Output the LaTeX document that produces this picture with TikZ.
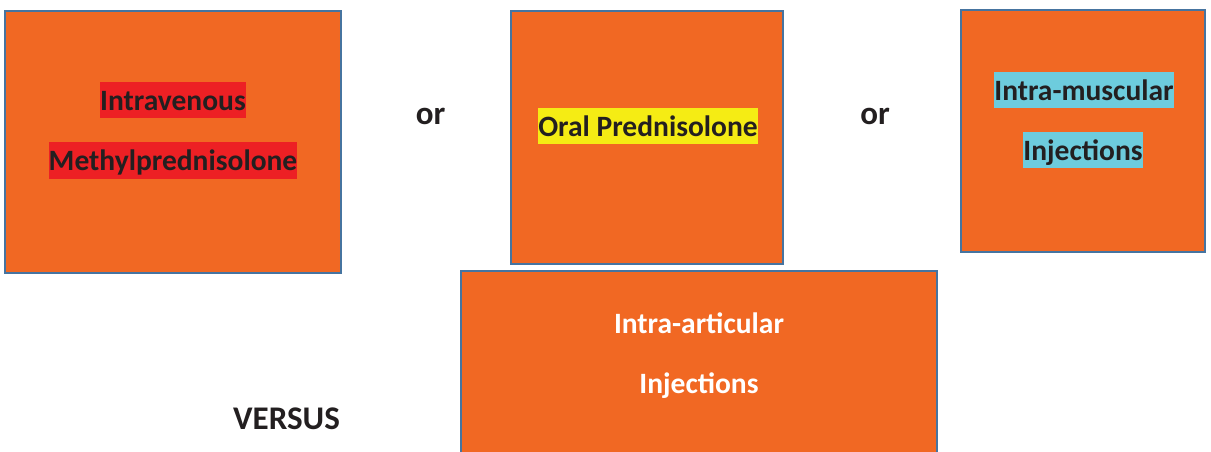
\documentclass[tikz,border=0pt]{standalone}
\usepackage{fontspec}
\setmainfont{Carlito}

\definecolor{steroidBoxFill}{RGB}{241,104,35}
\definecolor{steroidBoxBorder}{RGB}{70,116,160}
\definecolor{steroidText}{RGB}{35,31,32}
\definecolor{steroidRed}{RGB}{237,32,36}
\definecolor{steroidYellow}{RGB}{245,236,20}
\definecolor{steroidCyan}{RGB}{109,204,221}

\begin{document}
\begin{tikzpicture}[x=1cm,y=1cm,
      route/.style={font=\fontsize{16.8}{20}\selectfont\bfseries,
        text=steroidText, inner xsep=0pt, inner ysep=0pt,
        text height=16pt, text depth=4.5pt},
      joiner/.style={route, font=\fontsize{18.8}{22}\selectfont\bfseries,
        text height=17.9pt, text depth=5pt},
      injected/.style={route, text=white},
      card/.style={draw=steroidBoxBorder, fill=steroidBoxFill,
        line width=1.6pt}]
      \useasboundingbox (0,0) rectangle (24.22,9.04);

      \path[card] (.10,3.58) rectangle (6.82,8.82);
      \node[route, fill=steroidRed] (ivTop) at (3.46,7.04) {Intravenous};
      \node[route, fill=steroidRed] (ivBottom) at (3.46,5.83)
        {Methylprednisolone};

      \node[joiner] (orLeft) at (8.61,6.77) {or};

      \path[card] (10.22,3.76) rectangle (15.66,8.82);
      \node[route, fill=steroidYellow] (oral) at (12.96,6.52)
        {Oral Prednisolone};

      \node[joiner] (orRight) at (17.50,6.77) {or};

      \path[card] (19.22,4.00) rectangle (24.10,8.84);
      \node[route, fill=steroidCyan] (imTop) at (21.68,7.24)
        {Intra-muscular};
      \node[route, fill=steroidCyan] (imBottom) at (21.66,6.04)
        {Injections};

      \fill[steroidBoxFill] (9.22,0) rectangle (18.74,3.62);
      \draw[steroidBoxBorder, line width=1.6pt]
        (9.22,0) -- (9.22,3.62) -- (18.74,3.62) -- (18.74,0);
      \node[injected] (iaTop) at (13.98,2.58) {Intra-articular};
      \node[injected] (iaBottom) at (13.98,1.38) {Injections};

      \node[joiner] (versus) at (5.73,.67) {VERSUS};
    \end{tikzpicture}
\end{document}
